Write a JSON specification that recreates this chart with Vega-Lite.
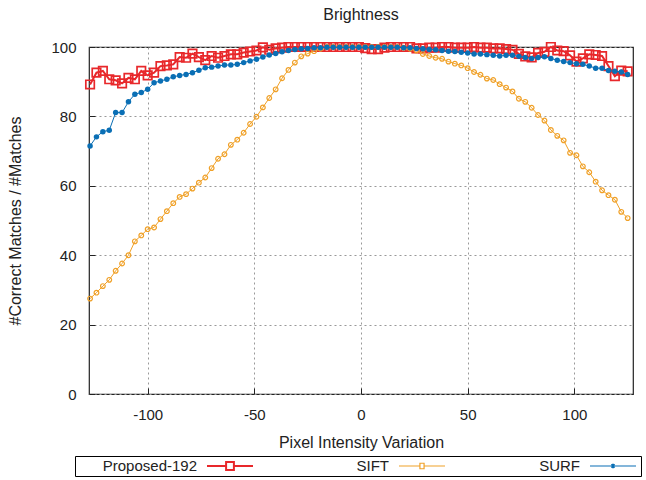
{
  "$schema": "https://vega.github.io/schema/vega-lite/v6.json",
  "width": 544,
  "height": 347,
  "autosize": {"type": "none"},
  "padding": {"left": 89, "top": 47, "right": 13, "bottom": 86},
  "background": "white",
  "title": {"text": "Brightness", "fontSize": 16, "font": "Liberation Sans", "fontWeight": "normal", "color": "#222", "anchor": "middle", "offset": 16},
  "data": {"values": [
    {"x": -127, "s": "Proposed-192", "y": 89.2}, {"x": -124, "s": "Proposed-192", "y": 92.6}, {"x": -121, "s": "Proposed-192", "y": 93.1}, {"x": -118, "s": "Proposed-192", "y": 90.7}, {"x": -115, "s": "Proposed-192", "y": 90.4},
    {"x": -112, "s": "Proposed-192", "y": 89.5}, {"x": -109, "s": "Proposed-192", "y": 91.1}, {"x": -106, "s": "Proposed-192", "y": 90.7}, {"x": -103, "s": "Proposed-192", "y": 93.1}, {"x": -100, "s": "Proposed-192", "y": 91.8},
    {"x": -97, "s": "Proposed-192", "y": 92.6}, {"x": -94, "s": "Proposed-192", "y": 94.5}, {"x": -91, "s": "Proposed-192", "y": 94.7}, {"x": -88, "s": "Proposed-192", "y": 95.0}, {"x": -85, "s": "Proposed-192", "y": 97.1},
    {"x": -82, "s": "Proposed-192", "y": 96.9}, {"x": -79, "s": "Proposed-192", "y": 98.1}, {"x": -76, "s": "Proposed-192", "y": 97.1}, {"x": -73, "s": "Proposed-192", "y": 96.2}, {"x": -70, "s": "Proposed-192", "y": 97.4},
    {"x": -67, "s": "Proposed-192", "y": 96.9}, {"x": -64, "s": "Proposed-192", "y": 97.4}, {"x": -61, "s": "Proposed-192", "y": 97.9}, {"x": -58, "s": "Proposed-192", "y": 97.9}, {"x": -55, "s": "Proposed-192", "y": 98.4},
    {"x": -52, "s": "Proposed-192", "y": 98.7}, {"x": -49, "s": "Proposed-192", "y": 99.0}, {"x": -46, "s": "Proposed-192", "y": 99.9}, {"x": -43, "s": "Proposed-192", "y": 99.2}, {"x": -40, "s": "Proposed-192", "y": 99.6},
    {"x": -37, "s": "Proposed-192", "y": 99.8}, {"x": -34, "s": "Proposed-192", "y": 100}, {"x": -31, "s": "Proposed-192", "y": 100}, {"x": -28, "s": "Proposed-192", "y": 100}, {"x": -25, "s": "Proposed-192", "y": 100},
    {"x": -22, "s": "Proposed-192", "y": 100}, {"x": -19, "s": "Proposed-192", "y": 100}, {"x": -16, "s": "Proposed-192", "y": 100}, {"x": -13, "s": "Proposed-192", "y": 100}, {"x": -10, "s": "Proposed-192", "y": 100},
    {"x": -7, "s": "Proposed-192", "y": 100}, {"x": -4, "s": "Proposed-192", "y": 100}, {"x": -1, "s": "Proposed-192", "y": 100}, {"x": 2, "s": "Proposed-192", "y": 99.7}, {"x": 5, "s": "Proposed-192", "y": 99.4},
    {"x": 8, "s": "Proposed-192", "y": 99.4}, {"x": 11, "s": "Proposed-192", "y": 99.8}, {"x": 14, "s": "Proposed-192", "y": 100}, {"x": 17, "s": "Proposed-192", "y": 100}, {"x": 20, "s": "Proposed-192", "y": 100},
    {"x": 23, "s": "Proposed-192", "y": 100}, {"x": 26, "s": "Proposed-192", "y": 99.6}, {"x": 29, "s": "Proposed-192", "y": 99.6}, {"x": 32, "s": "Proposed-192", "y": 99.8}, {"x": 35, "s": "Proposed-192", "y": 99.8},
    {"x": 38, "s": "Proposed-192", "y": 100}, {"x": 41, "s": "Proposed-192", "y": 100}, {"x": 44, "s": "Proposed-192", "y": 99.8}, {"x": 47, "s": "Proposed-192", "y": 99.8}, {"x": 50, "s": "Proposed-192", "y": 99.8},
    {"x": 53, "s": "Proposed-192", "y": 100}, {"x": 56, "s": "Proposed-192", "y": 99.8}, {"x": 59, "s": "Proposed-192", "y": 99.8}, {"x": 62, "s": "Proposed-192", "y": 99.6}, {"x": 65, "s": "Proposed-192", "y": 99.6},
    {"x": 68, "s": "Proposed-192", "y": 99.4}, {"x": 71, "s": "Proposed-192", "y": 99.2}, {"x": 74, "s": "Proposed-192", "y": 98.0}, {"x": 77, "s": "Proposed-192", "y": 97.3}, {"x": 80, "s": "Proposed-192", "y": 97.0},
    {"x": 83, "s": "Proposed-192", "y": 98.3}, {"x": 86, "s": "Proposed-192", "y": 98.6}, {"x": 89, "s": "Proposed-192", "y": 100}, {"x": 92, "s": "Proposed-192", "y": 99.0}, {"x": 95, "s": "Proposed-192", "y": 98.8},
    {"x": 98, "s": "Proposed-192", "y": 97.6}, {"x": 101, "s": "Proposed-192", "y": 95.8}, {"x": 104, "s": "Proposed-192", "y": 96.7}, {"x": 107, "s": "Proposed-192", "y": 97.9}, {"x": 110, "s": "Proposed-192", "y": 97.7},
    {"x": 113, "s": "Proposed-192", "y": 97.4}, {"x": 116, "s": "Proposed-192", "y": 94.5}, {"x": 119, "s": "Proposed-192", "y": 91.6}, {"x": 122, "s": "Proposed-192", "y": 93.2}, {"x": 125, "s": "Proposed-192", "y": 93.0},

    {"x": -127, "s": "SIFT", "y": 27.5}, {"x": -124, "s": "SIFT", "y": 29.2}, {"x": -121, "s": "SIFT", "y": 31.1}, {"x": -118, "s": "SIFT", "y": 32.9}, {"x": -115, "s": "SIFT", "y": 35.5},
    {"x": -112, "s": "SIFT", "y": 37.6}, {"x": -109, "s": "SIFT", "y": 40.0}, {"x": -106, "s": "SIFT", "y": 44.0}, {"x": -103, "s": "SIFT", "y": 45.7}, {"x": -100, "s": "SIFT", "y": 47.5},
    {"x": -97, "s": "SIFT", "y": 48.0}, {"x": -94, "s": "SIFT", "y": 50.4}, {"x": -91, "s": "SIFT", "y": 52.7}, {"x": -88, "s": "SIFT", "y": 55.0}, {"x": -85, "s": "SIFT", "y": 56.8},
    {"x": -82, "s": "SIFT", "y": 57.6}, {"x": -79, "s": "SIFT", "y": 59.2}, {"x": -76, "s": "SIFT", "y": 60.9}, {"x": -73, "s": "SIFT", "y": 62.4}, {"x": -70, "s": "SIFT", "y": 65.1},
    {"x": -67, "s": "SIFT", "y": 67.8}, {"x": -64, "s": "SIFT", "y": 69.1}, {"x": -61, "s": "SIFT", "y": 71.8}, {"x": -58, "s": "SIFT", "y": 73.3}, {"x": -55, "s": "SIFT", "y": 75.3},
    {"x": -52, "s": "SIFT", "y": 77.8}, {"x": -49, "s": "SIFT", "y": 79.9}, {"x": -46, "s": "SIFT", "y": 82.6}, {"x": -43, "s": "SIFT", "y": 85.3}, {"x": -40, "s": "SIFT", "y": 87.8},
    {"x": -37, "s": "SIFT", "y": 91.0}, {"x": -34, "s": "SIFT", "y": 93.4}, {"x": -31, "s": "SIFT", "y": 95.5}, {"x": -28, "s": "SIFT", "y": 97.3}, {"x": -25, "s": "SIFT", "y": 98.1},
    {"x": -22, "s": "SIFT", "y": 98.8}, {"x": -19, "s": "SIFT", "y": 99.5}, {"x": -16, "s": "SIFT", "y": 100}, {"x": -13, "s": "SIFT", "y": 100}, {"x": -10, "s": "SIFT", "y": 100},
    {"x": -7, "s": "SIFT", "y": 100}, {"x": -4, "s": "SIFT", "y": 100}, {"x": -1, "s": "SIFT", "y": 100}, {"x": 2, "s": "SIFT", "y": 100}, {"x": 5, "s": "SIFT", "y": 100},
    {"x": 8, "s": "SIFT", "y": 100}, {"x": 11, "s": "SIFT", "y": 100}, {"x": 14, "s": "SIFT", "y": 100}, {"x": 17, "s": "SIFT", "y": 100}, {"x": 20, "s": "SIFT", "y": 99.8},
    {"x": 23, "s": "SIFT", "y": 99.5}, {"x": 26, "s": "SIFT", "y": 99.0}, {"x": 29, "s": "SIFT", "y": 98.0}, {"x": 32, "s": "SIFT", "y": 97.4}, {"x": 35, "s": "SIFT", "y": 96.9},
    {"x": 38, "s": "SIFT", "y": 96.6}, {"x": 41, "s": "SIFT", "y": 95.8}, {"x": 44, "s": "SIFT", "y": 95.2}, {"x": 47, "s": "SIFT", "y": 94.7}, {"x": 50, "s": "SIFT", "y": 93.9},
    {"x": 53, "s": "SIFT", "y": 92.8}, {"x": 56, "s": "SIFT", "y": 92.0}, {"x": 59, "s": "SIFT", "y": 90.9}, {"x": 62, "s": "SIFT", "y": 90.5}, {"x": 65, "s": "SIFT", "y": 89.3},
    {"x": 68, "s": "SIFT", "y": 88.3}, {"x": 71, "s": "SIFT", "y": 87.2}, {"x": 74, "s": "SIFT", "y": 85.1}, {"x": 77, "s": "SIFT", "y": 84.2}, {"x": 80, "s": "SIFT", "y": 82.5},
    {"x": 83, "s": "SIFT", "y": 80.4}, {"x": 86, "s": "SIFT", "y": 78.8}, {"x": 89, "s": "SIFT", "y": 76.1}, {"x": 92, "s": "SIFT", "y": 74.4}, {"x": 95, "s": "SIFT", "y": 73.1},
    {"x": 98, "s": "SIFT", "y": 69.5}, {"x": 101, "s": "SIFT", "y": 68.8}, {"x": 104, "s": "SIFT", "y": 65.6}, {"x": 107, "s": "SIFT", "y": 63.9}, {"x": 110, "s": "SIFT", "y": 61.2},
    {"x": 113, "s": "SIFT", "y": 58.7}, {"x": 116, "s": "SIFT", "y": 57.3}, {"x": 119, "s": "SIFT", "y": 56.0}, {"x": 122, "s": "SIFT", "y": 52.5}, {"x": 125, "s": "SIFT", "y": 50.7},

    {"x": -127, "s": "SURF", "y": 71.5}, {"x": -124, "s": "SURF", "y": 74.1}, {"x": -121, "s": "SURF", "y": 75.6}, {"x": -118, "s": "SURF", "y": 76.0}, {"x": -115, "s": "SURF", "y": 81.1},
    {"x": -112, "s": "SURF", "y": 81.1}, {"x": -109, "s": "SURF", "y": 84.2}, {"x": -106, "s": "SURF", "y": 86.4}, {"x": -103, "s": "SURF", "y": 86.9}, {"x": -100, "s": "SURF", "y": 87.8},
    {"x": -97, "s": "SURF", "y": 89.7}, {"x": -94, "s": "SURF", "y": 90.2}, {"x": -91, "s": "SURF", "y": 90.7}, {"x": -88, "s": "SURF", "y": 91.4}, {"x": -85, "s": "SURF", "y": 91.8},
    {"x": -82, "s": "SURF", "y": 92.1}, {"x": -79, "s": "SURF", "y": 92.6}, {"x": -76, "s": "SURF", "y": 93.3}, {"x": -73, "s": "SURF", "y": 94.0}, {"x": -70, "s": "SURF", "y": 94.2},
    {"x": -67, "s": "SURF", "y": 94.5}, {"x": -64, "s": "SURF", "y": 94.8}, {"x": -61, "s": "SURF", "y": 94.8}, {"x": -58, "s": "SURF", "y": 95.0}, {"x": -55, "s": "SURF", "y": 95.5},
    {"x": -52, "s": "SURF", "y": 96.0}, {"x": -49, "s": "SURF", "y": 96.5}, {"x": -46, "s": "SURF", "y": 97.1}, {"x": -43, "s": "SURF", "y": 97.7}, {"x": -40, "s": "SURF", "y": 98.1},
    {"x": -37, "s": "SURF", "y": 98.6}, {"x": -34, "s": "SURF", "y": 99.0}, {"x": -31, "s": "SURF", "y": 99.3}, {"x": -28, "s": "SURF", "y": 99.5}, {"x": -25, "s": "SURF", "y": 99.6},
    {"x": -22, "s": "SURF", "y": 99.8}, {"x": -19, "s": "SURF", "y": 99.8}, {"x": -16, "s": "SURF", "y": 99.9}, {"x": -13, "s": "SURF", "y": 99.9}, {"x": -10, "s": "SURF", "y": 99.9},
    {"x": -7, "s": "SURF", "y": 99.9}, {"x": -4, "s": "SURF", "y": 99.9}, {"x": -1, "s": "SURF", "y": 99.9}, {"x": 2, "s": "SURF", "y": 99.9}, {"x": 5, "s": "SURF", "y": 99.9},
    {"x": 8, "s": "SURF", "y": 99.9}, {"x": 11, "s": "SURF", "y": 99.9}, {"x": 14, "s": "SURF", "y": 99.9}, {"x": 17, "s": "SURF", "y": 99.9}, {"x": 20, "s": "SURF", "y": 99.8},
    {"x": 23, "s": "SURF", "y": 99.8}, {"x": 26, "s": "SURF", "y": 99.6}, {"x": 29, "s": "SURF", "y": 99.5}, {"x": 32, "s": "SURF", "y": 99.3}, {"x": 35, "s": "SURF", "y": 99.2},
    {"x": 38, "s": "SURF", "y": 99.0}, {"x": 41, "s": "SURF", "y": 98.8}, {"x": 44, "s": "SURF", "y": 98.7}, {"x": 47, "s": "SURF", "y": 98.5}, {"x": 50, "s": "SURF", "y": 98.3},
    {"x": 53, "s": "SURF", "y": 98.0}, {"x": 56, "s": "SURF", "y": 98.0}, {"x": 59, "s": "SURF", "y": 97.8}, {"x": 62, "s": "SURF", "y": 97.6}, {"x": 65, "s": "SURF", "y": 97.4},
    {"x": 68, "s": "SURF", "y": 97.6}, {"x": 71, "s": "SURF", "y": 97.6}, {"x": 74, "s": "SURF", "y": 97.3}, {"x": 77, "s": "SURF", "y": 97.0}, {"x": 80, "s": "SURF", "y": 96.7},
    {"x": 83, "s": "SURF", "y": 97.0}, {"x": 86, "s": "SURF", "y": 97.2}, {"x": 89, "s": "SURF", "y": 96.7}, {"x": 92, "s": "SURF", "y": 96.2}, {"x": 95, "s": "SURF", "y": 95.8},
    {"x": 98, "s": "SURF", "y": 95.5}, {"x": 101, "s": "SURF", "y": 95.2}, {"x": 104, "s": "SURF", "y": 95.0}, {"x": 107, "s": "SURF", "y": 94.5}, {"x": 110, "s": "SURF", "y": 93.9},
    {"x": 113, "s": "SURF", "y": 93.9}, {"x": 116, "s": "SURF", "y": 93.2}, {"x": 119, "s": "SURF", "y": 93.0}, {"x": 122, "s": "SURF", "y": 92.8}, {"x": 125, "s": "SURF", "y": 92.1}
  ]},
  "encoding": {
    "x": {"field": "x", "type": "quantitative",
      "scale": {"domain": [-127.5, 127.5], "nice": false, "zero": false},
      "axis": {"values": [-100, -50, 0, 50, 100], "title": "Pixel Intensity Variation", "titlePadding": 12, "labelPadding": 19,
               "labelExpr": "replace(datum.label, '\u2212', '-')"}},
    "y": {"field": "y", "type": "quantitative",
      "scale": {"domain": [0, 100], "nice": false},
      "axis": {"values": [0, 20, 40, 60, 80, 100], "title": "#Correct Matches / #Matches", "titlePadding": 27, "labelPadding": 19}}
  },
  "layer": [
    {"transform": [{"filter": {"field": "s", "equal": "Proposed-192"}}],
     "layer": [
       {"mark": {"type": "line", "strokeWidth": 2},
        "encoding": {"color": {"field": "s", "type": "nominal",
          "scale": {"domain": ["Proposed-192", "SIFT", "SURF"], "range": ["#e8282b", "#f0a128", "#0a6fb5"]},
          "legend": {
            "orient": "none", "legendX": -14, "legendY": 409, "direction": "horizontal",
            "title": null, "padding": 2, "strokeColor": "#000", "fillColor": "white",
            "columnPadding": 12, "labelFont": "Liberation Sans", "labelFontSize": 15, "labelColor": "#222",
            "encode": {
              "entries": {"update": {"width": {"value": 190}, "height": {"value": 16}}},
              "labels": {"update": {"x": {"value": 120}, "y": {"value": 8}, "align": {"value": "right"}, "baseline": {"value": "middle"}}},
              "symbols": {"update": {
                "x": {"value": 153}, "y": {"value": 8},
                "size": {"value": 2116},
                "shape": {"signal": "datum.value === 'Proposed-192' ? 'M-1,0H-0.17M0.17,0H1M-0.17,-0.17H0.17V0.17H-0.17Z' : datum.value === 'SIFT' ? 'M-1,0H-0.09M0.09,0H1M-0.09,-0.12H0.09V0.12H-0.09Z' : 'M-1,0H1M-0.1,0H0.1M0,-0.1V0.1M-0.07,-0.07L0.07,0.07M-0.07,0.07L0.07,-0.07M-0.05,-0.09L0.05,0.09M-0.05,0.09L0.05,-0.09'"},
                "fill": {"value": "transparent"},
                "fillOpacity": {"value": 0},
                "strokeWidth": {"signal": "datum.value === 'Proposed-192' ? 2 : 1.2"},
                "opacity": {"value": 1}
              }}
            }
          }}}},
       {"mark": {"type": "point", "shape": "square", "size": 72, "strokeWidth": 1.7, "filled": false, "opacity": 1, "color": "#e8282b"}}
     ]},
    {"transform": [{"filter": {"field": "s", "equal": "SIFT"}}],
     "layer": [
       {"mark": {"type": "line", "strokeWidth": 1},
        "encoding": {"color": {"field": "s", "type": "nominal"}}},
       {"mark": {"type": "point", "shape": "circle", "size": 22, "strokeWidth": 1.2, "filled": false, "opacity": 1, "color": "#f0a128"}}
     ]},
    {"transform": [{"filter": {"field": "s", "equal": "SURF"}}],
     "layer": [
       {"mark": {"type": "line", "strokeWidth": 1},
        "encoding": {"color": {"field": "s", "type": "nominal"}}},
       {"mark": {"type": "point", "shape": "circle", "size": 30, "filled": true, "opacity": 1, "color": "#0a6fb5"}}
     ]}
  ],
  "config": {
    "font": "Liberation Sans",
    "view": {"stroke": "#222", "strokeWidth": 1.2},
    "axis": {
      "grid": true, "gridDash": [2, 3], "gridColor": "#999", "gridWidth": 1,
      "domain": false, "ticks": true, "tickColor": "#222", "tickSize": -6,
      "labelFont": "Liberation Sans", "labelFontSize": 15, "labelColor": "#222",
      "titleFont": "Liberation Sans", "titleFontSize": 16, "titleFontWeight": "normal", "titleColor": "#222"
    }
  }
}
